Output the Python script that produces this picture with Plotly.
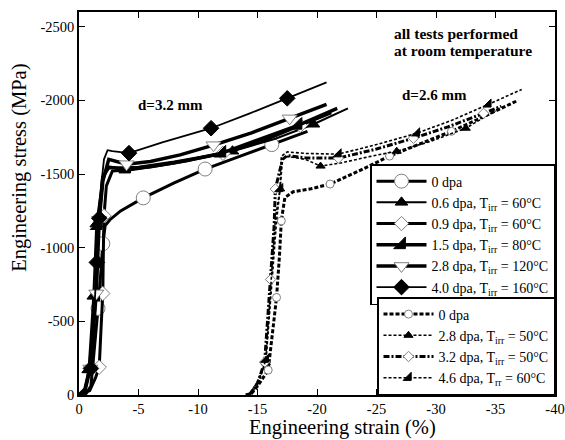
import plotly.graph_objects as go

# ---------------- data: d = 3.2 mm (solid lines) ----------------
a0_x = [0, -0.6, -1.0, -1.3, -1.6, -1.85, -2.0, -2.2, -2.6, -3.5, -5.4, -8.0, -10.6, -13.5, -16.2, -19.2]
a0_y = [0, -10, -60, -300, -588, -850, -1027, -1150, -1190, -1250, -1338, -1440, -1534, -1620, -1700, -1790]
a0_m = [4, 6, 10, 12, 14]

a06_x = [0, -0.5, -0.8, -1.2, -1.45, -1.7, -2.0, -2.4, -3.2, -5.0, -8.0, -12.9, -16.5, -19.7, -22.6]
a06_y = [0, -30, -170, -670, -1160, -1320, -1480, -1550, -1545, -1550, -1585, -1655, -1740, -1838, -1946]
a06_m = [2, 3, 4, 11, 13]

a09_x = [0, -0.9, -1.4, -1.7, -1.85, -2.0, -2.05, -2.1, -2.3, -2.8, -4.5, -8.0, -12.1, -15.5, -18.6, -21.2]
a09_y = [0, -30, -120, -189, -450, -689, -1000, -1216, -1420, -1520, -1530, -1575, -1640, -1725, -1830, -1915]
a09_m = [3, 5, 7, 12, 14]

a15_x = [0, -0.5, -0.9, -1.2, -1.4, -1.6, -2.0, -2.5, -4.0, -6.0, -9.0, -12.0, -15.0, -18.4, -21.7]
a15_y = [0, -40, -180, -500, -680, -1150, -1480, -1545, -1534, -1550, -1590, -1642, -1730, -1831, -1946]
a15_m = [2, 4, 5, 8, 11, 13]

a28_x = [0, -0.5, -0.95, -1.2, -1.45, -1.7, -2.0, -2.5, -3.0, -4.0, -6.0, -8.5, -11.3, -14.5, -17.7, -20.8]
a28_y = [0, -30, -180, -450, -690, -1190, -1450, -1600, -1590, -1567, -1585, -1630, -1696, -1780, -1878, -1973]
a28_m = [2, 4, 5, 9, 12, 14]

a40_x = [0, -0.5, -1.0, -1.3, -1.5, -1.7, -1.9, -2.1, -2.4, -2.8, -4.2, -7.0, -11.1, -14.3, -17.5, -20.8]
a40_y = [0, -40, -180, -600, -900, -1200, -1450, -1600, -1662, -1655, -1642, -1715, -1811, -1910, -2014, -2122]
a40_m = [2, 4, 5, 10, 12, 14]

# ---------------- data: d = 2.6 mm (dotted / dashed lines) ----------------
b0_x = [-14.0, -14.5, -15.0, -15.5, -15.9, -16.3, -16.6, -16.85, -17.0, -17.3, -18.0, -19.5, -21.1, -23.5, -26.1, -28.5, -31.3, -34.0, -36.9]
b0_y = [0, -10, -60, -120, -169, -450, -662, -950, -1182, -1340, -1380, -1400, -1432, -1520, -1622, -1700, -1790, -1890, -2000]
b0_m = [4, 6, 8, 12, 14, 16]

b28_x = [-14.3, -15.0, -15.7, -16.2, -16.6, -16.9, -17.1, -17.5, -19.0, -20.3, -22.0, -24.5, -26.7, -29.5, -32.5, -35.0]
b28_y = [0, -90, -220, -750, -1180, -1399, -1600, -1620, -1600, -1554, -1575, -1620, -1655, -1720, -1811, -1930]
b28_m = [2, 5, 9, 12, 14]

b32_x = [-14.3, -15.0, -15.6, -16.1, -16.4, -16.5, -16.8, -17.1, -17.5, -19.0, -21.8, -25.0, -28.1, -31.0, -34.0, -35.5]
b32_y = [0, -80, -223, -784, -1150, -1399, -1500, -1600, -1625, -1610, -1608, -1670, -1743, -1820, -1912, -1960]
b32_m = [2, 3, 5, 10, 12, 14]

b46_x = [-14.3, -15.0, -15.7, -16.1, -16.5, -16.9, -17.0, -17.5, -19.0, -21.8, -25.0, -28.4, -31.5, -34.4, -37.2]
b46_y = [0, -60, -240, -750, -1200, -1399, -1620, -1650, -1640, -1635, -1700, -1777, -1870, -1973, -2074]
b46_m = [2, 5, 9, 11, 13]

x_tickvals = [0, -5, -10, -15, -20, -25, -30, -35, -40]
x_ticktext = ["0", "-5", "-10", "-15", "-20", "-25", "-30", "-35", "-40"]
y_tickvals = [0, -500, -1000, -1500, -2000, -2500]
y_ticktext = ["0", "-500", "-1000", "-1500", "-2000", "-2500"]

FONT = "Liberation Serif"
GRAY = "#808080"

series = [
    # x, y, marker idx, name, legend, line width, dash, symbol, msize, mfill, mline
    (a0_x, a0_y, a0_m, "0 dpa", "legend", 3, "solid", "circle", 14, "white", GRAY),
    (a06_x, a06_y, a06_m, "0.6 dpa, T<sub>irr</sub> = 60°C", "legend", 2, "solid", "triangle-up", 11, "black", "black"),
    (a09_x, a09_y, a09_m, "0.9 dpa, T<sub>irr</sub> = 60°C", "legend", 3, "solid", "diamond", 11, "white", GRAY),
    (a15_x, a15_y, a15_m, "1.5 dpa, T<sub>irr</sub> = 80°C", "legend", 3.5, "solid", "triangle-se", 13, "black", "black"),
    (a28_x, a28_y, a28_m, "2.8 dpa, T<sub>irr</sub> = 120°C", "legend", 3.5, "solid", "triangle-down", 13, "white", GRAY),
    (a40_x, a40_y, a40_m, "4.0 dpa, T<sub>irr</sub> = 160°C", "legend", 1.8, "solid", "diamond", 12, "black", "black"),
    (b0_x, b0_y, b0_m, "0 dpa", "legend2", 3, "4px,2px", "circle", 8, "white", GRAY),
    (b28_x, b28_y, b28_m, "2.8 dpa, T<sub>irr</sub> = 50°C", "legend2", 1.6, "3px,2px", "triangle-up", 8, "black", "black"),
    (b32_x, b32_y, b32_m, "3.2 dpa, T<sub>irr</sub> = 50°C", "legend2", 3, "6px,2px,2px,2px", "diamond", 8, "white", GRAY),
    (b46_x, b46_y, b46_m, "4.6 dpa, T<sub>rr</sub> = 60°C", "legend2", 1.6, "3px,2px", "triangle-se", 9, "black", "black"),
]

fig = go.Figure()
for i, (xs, ys, mi, name, leg, lw, dash, sym, ms, mfill, mline) in enumerate(series):
    line = dict(color="black", width=lw, dash=dash)
    marker = dict(symbol=sym, size=ms, color=mfill, line=dict(color=mline, width=1))
    fig.add_trace(go.Scatter(x=xs, y=ys, mode="lines", line=line,
                             showlegend=False, hoverinfo="skip"))
    fig.add_trace(go.Scatter(x=[xs[k] for k in mi], y=[ys[k] for k in mi], mode="markers",
                             marker=marker, showlegend=False, hoverinfo="skip"))
    fig.add_trace(go.Scatter(x=[None], y=[None], mode="lines+markers", name=name,
                             line=line, marker=marker, legend=leg, showlegend=True))

legend_common = dict(bordercolor="black", borderwidth=1.5, bgcolor="white",
                     font=dict(family=FONT, size=14, color="black"),
                     itemwidth=50, tracegroupgap=0, x=1, xanchor="right")

fig.update_layout(
    width=565, height=440,
    margin=dict(l=79, r=10, t=12, b=45, autoexpand=False),
    paper_bgcolor="white", plot_bgcolor="white",
    font=dict(family=FONT, size=14, color="black"),
    legend=dict(y=0.603, yanchor="top", **legend_common),
    legend2=dict(y=0.0, yanchor="bottom", **legend_common),
    xaxis=dict(range=[0, -40], tickvals=x_tickvals, ticktext=x_ticktext,
               ticks="inside", ticklen=6, tickwidth=1, tickcolor="black",
               showline=True, linecolor="black", linewidth=1.5, mirror="ticks",
               showgrid=False, zeroline=False, automargin=False,
               tickfont=dict(size=14.5)),
    yaxis=dict(range=[0, -2600], tickvals=y_tickvals, ticktext=y_ticktext,
               ticks="inside", ticklen=6, tickwidth=1, tickcolor="black",
               showline=True, linecolor="black", linewidth=1.5, mirror="ticks",
               showgrid=False, zeroline=False, automargin=False,
               tickfont=dict(size=14.5)),
    annotations=[
        dict(xref="paper", yref="paper", x=0.553, y=-0.086, yanchor="middle",
             text="Engineering strain (%)", showarrow=False,
             font=dict(family=FONT, size=20.5)),
        dict(xref="paper", yref="paper", x=-0.124, y=0.593, xanchor="center", yanchor="middle",
             text="Engineering stress (MPa)", showarrow=False, textangle=-90,
             font=dict(family=FONT, size=20.5)),
        dict(x=-7.7, y=-1966, text="<b>d=3.2 mm</b>", showarrow=False,
             font=dict(family=FONT, size=15)),
        dict(x=-29.9, y=-2034, text="<b>d=2.6 mm</b>", showarrow=False,
             font=dict(family=FONT, size=15)),
        dict(x=-26.3, y=-2455, text="<b>all tests performed</b>",
             showarrow=False, xanchor="left", font=dict(family=FONT, size=15.5)),
        dict(x=-26.3, y=-2342, text="<b>at room temperature</b>",
             showarrow=False, xanchor="left", font=dict(family=FONT, size=15.5)),
    ],
)

fig.write_html("out.html")
